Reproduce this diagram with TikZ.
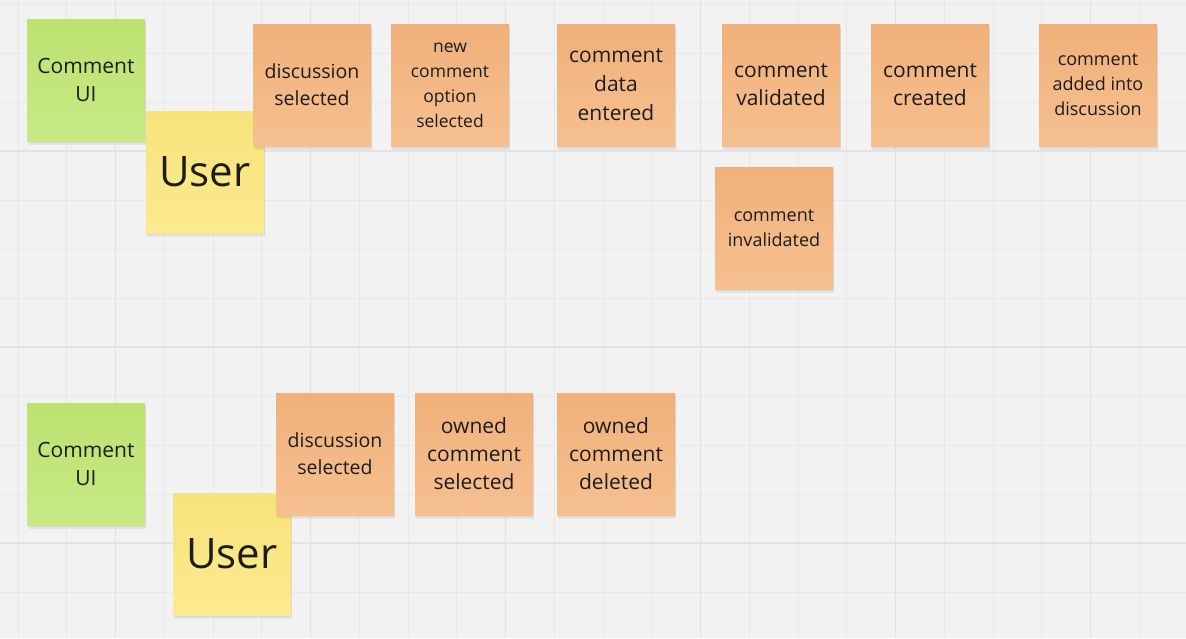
\documentclass[tikz,border=0pt]{standalone}
\usepackage{fontspec}
\setmainfont{Open Sans}
\usetikzlibrary{shadows}

\definecolor{board}{HTML}{F2F2F2}
\definecolor{gridminor}{HTML}{E8E8E8}
\definecolor{gridmajor}{HTML}{E2E2E2}
\definecolor{greentop}{HTML}{BCE270}
\definecolor{greenbot}{HTML}{C8E985}
\definecolor{yellowtop}{HTML}{F8E37A}
\definecolor{yellowbot}{HTML}{FBEA8F}
\definecolor{orangetop}{HTML}{F0B07A}
\definecolor{orangebot}{HTML}{F6C090}
\definecolor{ink}{HTML}{1C1C1C}

\tikzset{
  note/.style={minimum width=118pt, minimum height=122pt, inner sep=0pt,
    align=center, text=ink,
    general shadow={fill=black, opacity=0.05, shadow xshift=1pt, shadow yshift=-4pt},
    general shadow={fill=black, opacity=0.06, shadow xshift=0.5pt, shadow yshift=-2pt}},
  greennote/.style={note, top color=greentop, bottom color=greenbot},
  yellownote/.style={note, top color=yellowtop, bottom color=yellowbot},
  orangenote/.style={note, top color=orangetop, bottom color=orangebot},
}

\begin{document}
\begin{tikzpicture}[x=1pt, y=-1pt]
\useasboundingbox (0,0) rectangle (1186,638);
\fill[board] (0,0) rectangle (1186,638);
% grid of the board
\foreach \k in {0,...,23}
  \draw[gridminor, line width=1pt] ({18+48.75*\k},0) -- ({18+48.75*\k},638);
\foreach \k in {0,...,12}
  \draw[gridminor, line width=1pt] (0,{4+49*\k}) -- (1186,{4+49*\k});
\foreach \k in {2,6,10,14,18,22}
  \draw[gridmajor, line width=1.4pt] ({18+48.75*\k},0) -- ({18+48.75*\k},638);
\foreach \k in {3,7,11}
  \draw[gridmajor, line width=1.4pt] (0,{4+49*\k}) -- (1186,{4+49*\k});

% adding a comment
\node[greennote, font=\fontsize{21}{28}\selectfont] (ui1) at (86,80) {Comment\\UI};
\node[yellownote, font=\fontsize{42}{48}\selectfont] (user1) at (205,172) {User};
\node[orangenote, font=\fontsize{19.5}{27}\selectfont] (disc1) at (312,85) {discussion\\selected};
\node[orangenote, font=\fontsize{17.5}{25}\selectfont] (newopt) at (450,85) {new\\comment\\option\\selected};
\node[orangenote, font=\fontsize{21}{29}\selectfont] (dataent) at (616,85) {comment\\data\\entered};
\node[orangenote, font=\fontsize{21}{28}\selectfont] (valid) at (781,85) {comment\\validated};
\node[orangenote, font=\fontsize{21}{28}\selectfont] (created) at (930,85) {comment\\created};
\node[orangenote, font=\fontsize{18}{25}\selectfont] (added) at (1098,85) {comment\\added into\\discussion};
\node[orangenote, font=\fontsize{18}{25}\selectfont] (invalid) at (774,228) {comment\\invalidated};

% deleting a comment
\node[greennote, font=\fontsize{21}{28}\selectfont] (ui2) at (86,464) {Comment\\UI};
\node[yellownote, font=\fontsize{42}{48}\selectfont] (user2) at (232,554) {User};
\node[orangenote, font=\fontsize{19.5}{27}\selectfont] (disc2) at (335,454) {discussion\\selected};
\node[orangenote, font=\fontsize{21}{28}\selectfont] (ownsel) at (474,454) {owned\\comment\\selected};
\node[orangenote, font=\fontsize{21}{28}\selectfont] (owndel) at (616,454) {owned\\comment\\deleted};
\end{tikzpicture}
\end{document}
